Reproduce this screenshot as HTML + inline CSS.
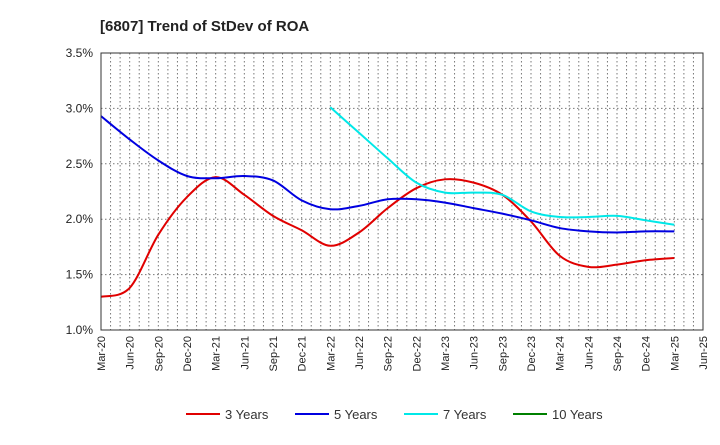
<!DOCTYPE html>
<html><head><meta charset="utf-8"><style>
body{margin:0;background:#fff;font-family:"Liberation Sans",sans-serif}
svg text{font-family:"Liberation Sans",sans-serif}
</style></head><body>
<svg id="c" width="720" height="440">
<text x="100" y="31" font-size="15" font-weight="bold" fill="#222">[6807]  Trend of StDev of ROA</text>
<g id="grid"></g><g id="lines"></g><g id="axes"></g><g id="legend"></g>
</svg>
<script>
const xLabels=["Mar-20","Jun-20","Sep-20","Dec-20","Mar-21","Jun-21","Sep-21","Dec-21","Mar-22","Jun-22","Sep-22","Dec-22","Mar-23","Jun-23","Sep-23","Dec-23","Mar-24","Jun-24","Sep-24","Dec-24","Mar-25","Jun-25"];
const yTicks=[1.0,1.5,2.0,2.5,3.0,3.5];
const s3=[1.30,1.38,1.86,2.20,2.38,2.22,2.03,1.90,1.76,1.88,2.10,2.28,2.36,2.33,2.22,1.98,1.67,1.57,1.59,1.63,1.65];
const s5=[2.93,2.72,2.53,2.39,2.37,2.39,2.35,2.17,2.09,2.12,2.18,2.18,2.15,2.10,2.05,1.99,1.92,1.89,1.88,1.89,1.89];
const s7=[null,null,null,null,null,null,null,null,3.01,2.78,2.55,2.33,2.24,2.24,2.22,2.07,2.02,2.02,2.03,1.99,1.95];
const s10=[];
const L=101,R=703,T=53,B=330;
const X=i=>L+(R-L)*i/21;
const Y=v=>B-(v-1)*(B-T)/2.5;
const NS="http://www.w3.org/2000/svg";
function mk(t,a,p){const e=document.createElementNS(NS,t);for(const k in a)e.setAttribute(k,a[k]);p.appendChild(e);return e;}
const g=document.getElementById('grid'),ax=document.getElementById('axes'),ln=document.getElementById('lines'),lg=document.getElementById('legend');
for(let m=1;m<63;m++){const x=L+(R-L)*m/63;const e=mk('line',{x1:x,x2:x,y1:T,y2:B,stroke:'#777','stroke-dasharray':'1.5,2.5'},g);

}
yTicks.forEach(v=>{const e=mk('line',{x1:L,x2:R,y1:Y(v),y2:Y(v),stroke:'#777','stroke-dasharray':'1.5,2.5'},g);


const t=mk('text',{x:L-8,y:Y(v)+4,'text-anchor':'end','font-size':12,fill:'#222'},ax);t.textContent=v.toFixed(1)+'%';

});
const fr=mk('rect',{x:L,y:T,width:R-L,height:B-T,fill:'none',stroke:'#333'},ax);


xLabels.forEach((s,i)=>{const x=X(i);const t=mk('text',{x:x+4,y:B+6,'text-anchor':'end','font-size':11,fill:'#222',transform:`rotate(-90 ${x+4} ${B+6})`},ax);t.textContent=s;

});
function path(arr){const pts=[];arr.forEach((v,i)=>{if(v!=null)pts.push([X(i),Y(v)]);});if(pts.length<2)return '';
let d=`M${pts[0][0]},${pts[0][1]}`;for(let i=0;i<pts.length-1;i++){const p0=pts[i-1]||pts[i],p1=pts[i],p2=pts[i+1],p3=pts[i+2]||p2;
d+=` C${p1[0]+(p2[0]-p0[0])/6},${p1[1]+(p2[1]-p0[1])/6} ${p2[0]-(p3[0]-p1[0])/6},${p2[1]-(p3[1]-p1[1])/6} ${p2[0]},${p2[1]}`;}return d;}
const series=[[s3,'#e00000','3 Years','line-3-years'],[s5,'#0000e0','5 Years','line-5-years'],[s7,'#00e8e8','7 Years','line-7-years'],[s10,'#008000','10 Years','line-10-years']];
series.forEach((s,k)=>{const d=path(s[0]);if(d){const p=mk('path',{d:d,fill:'none',stroke:s[1],'stroke-width':2},ln);

}
const lx=186+k*109;const li=mk('line',{x1:lx,x2:lx+34,y1:414,y2:414,stroke:s[1],'stroke-width':2},lg);


const t=mk('text',{x:lx+39,y:419,'font-size':13,fill:'#333'},lg);t.textContent=s[2];

});
</script>
</body></html>
